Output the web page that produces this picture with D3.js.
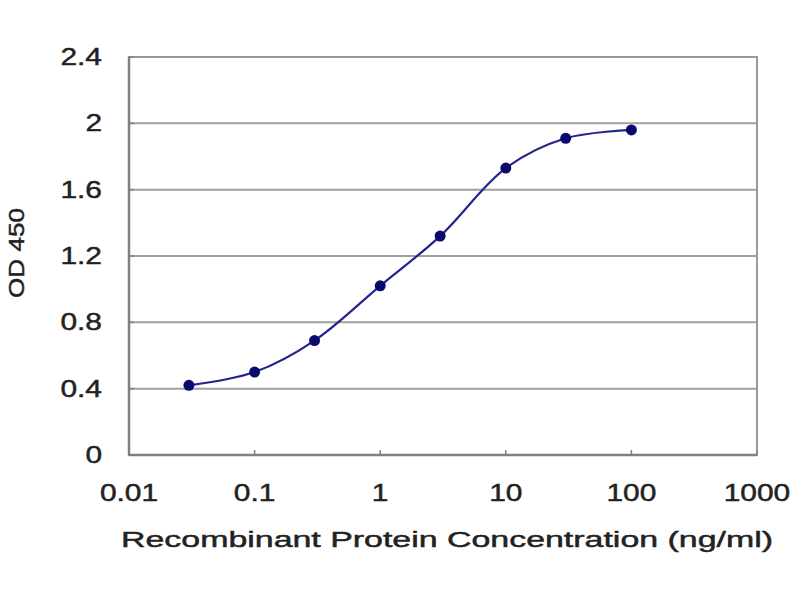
<!DOCTYPE html>
<html>
<head>
<meta charset="utf-8">
<script src="https://cdn.jsdelivr.net/npm/d3@7"></script>
<style>
  body { margin: 0; background: #fff; }
  text { font-family: "Liberation Sans", Arial, sans-serif; fill: #222; stroke: #222; stroke-width: 0.45px; }
</style>
</head>
<body>
<div id="chart"></div>
<script>
// Data
const concentrations = [0.03, 0.1, 0.3, 1, 3, 10, 30, 100];
const odValues = [0.42, 0.50, 0.69, 1.02, 1.32, 1.73, 1.91, 1.96];
const xTicks = [0.01, 0.1, 1, 10, 100, 1000];
const xTickLabels = ["0.01", "0.1", "1", "10", "100", "1000"];
const yTicks = [0, 0.4, 0.8, 1.2, 1.6, 2, 2.4];
const yTickLabels = ["0", "0.4", "0.8", "1.2", "1.6", "2", "2.4"];

const W = 800, H = 600;
const margin = { top: 57, right: 43, bottom: 145, left: 129 },
      width = W - margin.left - margin.right,
      height = H - margin.top - margin.bottom;

const svg = d3.select("#chart")
    .append("svg")
    .attr("width", W)
    .attr("height", H);

const g = svg.append("g")
    .attr("transform", `translate(${margin.left},${margin.top})`);

const x = d3.scaleLog().domain([0.01, 1000]).range([0, width]);
const y = d3.scaleLinear().domain([0, 2.4]).range([height, 0]);

// stretch text horizontally like the reference
function stretch(sel, k) {
    sel.each(function () {
        const len = this.getComputedTextLength();
        d3.select(this)
            .attr("textLength", len * k)
            .attr("lengthAdjust", "spacingAndGlyphs");
    });
}

// Gridlines
g.selectAll(".grid")
    .data(yTicks.slice(1))
    .enter()
    .append("line")
    .attr("class", "grid")
    .attr("x1", 0).attr("x2", width)
    .attr("y1", d => y(d)).attr("y2", d => y(d))
    .attr("stroke", "#a0a0a0")
    .attr("stroke-width", 2);

// Plot border
g.append("rect")
    .attr("width", width).attr("height", height)
    .attr("fill", "none")
    .attr("stroke", "#999")
    .attr("stroke-width", 2);

// Axes lines
g.append("line").attr("x1", 0).attr("x2", 0).attr("y1", 0).attr("y2", height)
    .attr("stroke", "#808080").attr("stroke-width", 2.5);
g.append("line").attr("x1", 0).attr("x2", width).attr("y1", height).attr("y2", height)
    .attr("stroke", "#808080").attr("stroke-width", 2.5);

// Tick marks
g.selectAll(".xtick").data(xTicks).enter().append("line")
    .attr("x1", d => x(d)).attr("x2", d => x(d))
    .attr("y1", height).attr("y2", height - 5)
    .attr("stroke", "#808080").attr("stroke-width", 1.5);
g.selectAll(".ytick").data(yTicks).enter().append("line")
    .attr("x1", 0).attr("x2", 5)
    .attr("y1", d => y(d)).attr("y2", d => y(d))
    .attr("stroke", "#808080").attr("stroke-width", 1.5);

// Tick labels
g.selectAll(".xlabel")
    .data(xTicks)
    .enter()
    .append("text")
    .attr("x", d => x(d))
    .attr("y", height + 46)
    .attr("text-anchor", "middle")
    .style("font-size", "23px")
    .text((d, i) => xTickLabels[i])
    .call(stretch, 1.3);

g.selectAll(".ylabel")
    .data(yTicks)
    .enter()
    .append("text")
    .attr("x", -27)
    .attr("y", d => y(d) + 8)
    .attr("text-anchor", "end")
    .style("font-size", "23px")
    .text((d, i) => yTickLabels[i])
    .call(stretch, 1.3);

// Axis titles
svg.append("text")
    .attr("x", 447)
    .attr("y", 547)
    .attr("text-anchor", "middle")
    .style("font-size", "22px")
    .text("Recombinant Protein Concentration (ng/ml)")
    .attr("textLength", 652)
    .attr("lengthAdjust", "spacingAndGlyphs");

svg.append("text")
    .attr("transform", "translate(24,253) rotate(-90)")
    .attr("text-anchor", "middle")
    .style("font-size", "22px")
    .text("OD 450")
    .attr("textLength", 90)
    .attr("lengthAdjust", "spacingAndGlyphs");

// Curve
const pts = concentrations.map((c, i) => ({ c: c, v: odValues[i] }));
const line = d3.line()
    .x(d => x(d.c))
    .y(d => y(d.v))
    .curve(d3.curveCatmullRom.alpha(0.5));

g.append("path")
    .datum(pts)
    .attr("fill", "none")
    .attr("stroke", "#24248f")
    .attr("stroke-width", 2.2)
    .attr("d", line);

g.selectAll(".dot")
    .data(pts)
    .enter()
    .append("circle")
    .attr("cx", d => x(d.c))
    .attr("cy", d => y(d.v))
    .attr("r", 5.5)
    .attr("fill", "#0a0a6e");
</script>
</body>
</html>
